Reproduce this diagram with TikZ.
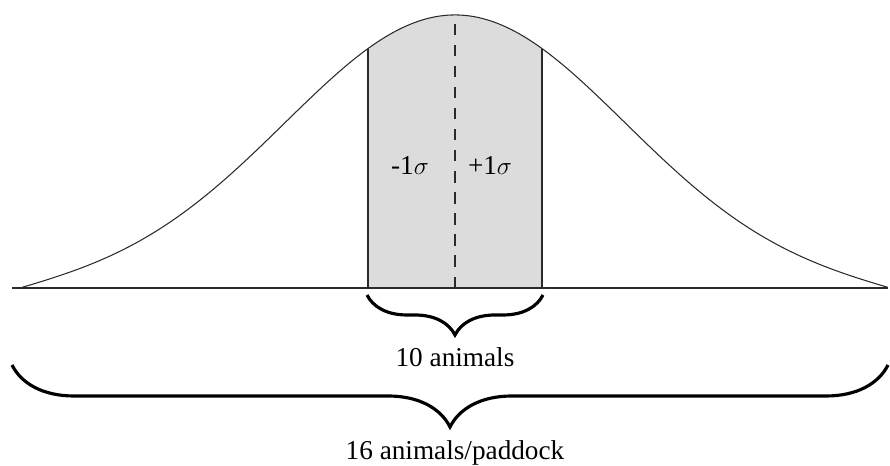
\documentclass[tikz,border=0pt]{standalone}
\usepackage{fontspec}
\setmainfont{Liberation Serif}
\usetikzlibrary{decorations.pathreplacing}
\definecolor{band}{HTML}{DCDCDC}
\definecolor{ink}{HTML}{2A2A2A}

\begin{document}
\begin{tikzpicture}[
    x=0.02cm, y=0.02cm,
    curve/.style={draw=ink, line width=0.6pt},
    edge/.style={draw=ink, line width=0.7pt},
    meanline/.style={draw=ink, line width=0.7pt, dash pattern=on 6.5pt off 5.5pt},
    bracket/.style={decorate, decoration={brace, mirror, amplitude=#1}, line width=1.8pt},
    lbl/.style={font=\fontsize{15.5}{18}\selectfont, anchor=base}
]
\useasboundingbox (0,0) rectangle (890,466);

% Bell curve about the mean at x=455
\def\bell{plot[domain=20:888, samples=160, smooth]
    (\x, {178 + 273*exp(-((\x-455)/240)^2) - 10.2*(abs(\x-455)/435)^6})}

% Shaded band between -1 and +1 sigma
\begin{scope}
  \clip (368,178) rectangle (542,466);
  \fill[band] \bell -- cycle;
\end{scope}

% Key points
\coordinate (axl) at (12,178);
\coordinate (axr) at (888,178);
\coordinate (lo) at (368,178);
\coordinate (lotop) at (368,417);
\coordinate (hi) at (542,178);
\coordinate (hitop) at (542,417);
\coordinate (mu) at (455,178);
\coordinate (mutop) at (455,451);

% Curve, axis and band edges
\draw[curve] \bell;
\draw[edge] (axl) -- (axr);
\draw[edge] (lo) -- (lotop);
\draw[edge] (hi) -- (hitop);
\draw[meanline] (mu) -- (mutop);

% Labels inside the band
\node[lbl] (minus) at (410,291) {-1$\sigma$};
\node[lbl] (plus) at (490,291) {+1$\sigma$};

% Braces below the axis
\coordinate (sbl) at (367,171);
\coordinate (sbr) at (543,171);
\coordinate (bbl) at (12,101);
\coordinate (bbr) at (888,101);
\draw[bracket=0.8cm] (sbl) -- (sbr);
\draw[bracket=1.24cm] (bbl) -- (bbr);

\node[lbl] (ten) at (455,99) {10 animals};
\node[lbl] (sixteen) at (455,6) {16 animals/paddock};

\end{tikzpicture}
\end{document}
